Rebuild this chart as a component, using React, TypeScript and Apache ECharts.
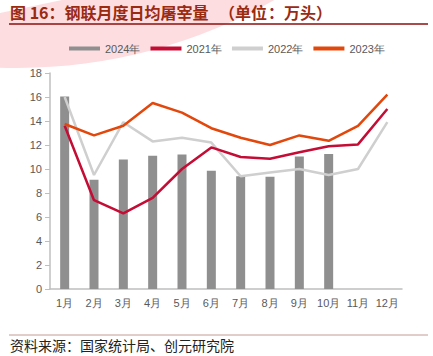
import React, { useEffect, useRef } from "react";
import * as echarts from "echarts";

const months = ["1月", "2月", "3月", "4月", "5月", "6月", "7月", "8月", "9月", "10月", "11月", "12月"];
const s2024 = [16.05, 9.1, 10.8, 11.1, 11.2, 9.85, 9.4, 9.35, 11.05, 11.25];
const s2021 = [13.6, 7.4, 6.3, 7.6, 10.0, 11.8, 11.0, 10.85, 11.4, 11.9, 12.05, 15.0];
const s2022 = [16.0, 9.5, 13.9, 12.3, 12.6, 12.2, 9.4, 9.7, 10.0, 9.5, 10.0, 13.9];
const s2023 = [13.75, 12.8, 13.6, 15.5, 14.7, 13.4, 12.6, 12.0, 12.8, 12.35, 13.6, 16.2];
const yTicks = { min: 0, max: 18, interval: 2 };

const titleParts = ["图 16：钢联月度日均屠宰量", "（", "单位", "：", "万头", "）"];
const source = "资料来源：国家统计局、创元研究院";

export default function App() {
  const ref = useRef<HTMLDivElement>(null);
  useEffect(() => {
    document.body.style.margin = "0";
    const chart = echarts.init(ref.current!, null, { renderer: "svg" });
    const axisColor = "#BFBFBF";
    const labelColor = "#595959";
    const font = "Arial, 'Liberation Sans', sans-serif";
    const titleX = [10, 219, 235, 268, 284, 316];
    const titleFont = "bold 16px 'Noto Sans CJK SC', sans-serif";
    chart.setOption({
      animation: false,
      backgroundColor: "#fff",
      graphic: [
        { type: "circle", z: -10, shape: { cx: 17, cy: -453, r: 521 }, style: { fill: "#FDDDE0" } },
        { type: "polygon", z: -9, shape: { points: [[0, 0], [62, 0], [0, 13]] }, style: { fill: "#fff" } },
        ...titleParts.map((t, i) => ({
          type: "text", left: titleX[i], top: 4,
          style: { text: t, fill: "#9A2A10", font: titleFont },
        })),
        { type: "line", shape: { x1: 9, y1: 24, x2: 428, y2: 24 }, style: { stroke: "#8B0F0F", lineWidth: 1.5 } },
        { type: "line", shape: { x1: 9, y1: 335, x2: 428, y2: 335 }, style: { stroke: "#C49A94", lineWidth: 1 } },
        {
          type: "text", left: 10, top: 338,
          style: { text: source, fill: "#222", font: "14px 'Noto Sans CJK SC', sans-serif" },
        },
      ],
      legend: {
        left: 64, top: 38,
        itemWidth: 31, itemHeight: 4, itemGap: 10,
        textStyle: { color: labelColor, fontSize: 11, fontFamily: font },
        data: [
          { name: "2024年", icon: "rect" },
          { name: "2021年", icon: "rect" },
          { name: "2022年", icon: "rect" },
          { name: "2023年", icon: "rect" },
        ],
      },
      grid: { left: 50, right: 31, top: 73, bottom: 67 },
      xAxis: {
        type: "category",
        data: months,
        axisLine: { lineStyle: { color: axisColor, width: 1.5 } },
        axisTick: { lineStyle: { color: axisColor } },
        axisLabel: { color: labelColor, fontSize: 11, fontFamily: font, margin: 8, interval: 0 },
      },
      yAxis: {
        type: "value",
        min: yTicks.min, max: yTicks.max, interval: yTicks.interval,
        axisLine: { show: true, lineStyle: { color: axisColor, width: 1.5 } },
        axisTick: { show: true, lineStyle: { color: axisColor } },
        splitLine: { show: false },
        axisLabel: { color: labelColor, fontSize: 11, fontFamily: font, margin: 8 },
      },
      series: [
        { name: "2024年", type: "bar", data: s2024, barWidth: 9, itemStyle: { color: "#8F8F8F" } },
        { name: "2022年", type: "line", data: s2022, symbol: "none", lineStyle: { color: "#CFCFCF", width: 2.5 }, itemStyle: { color: "#CFCFCF" } },
        { name: "2021年", type: "line", data: s2021, symbol: "none", lineStyle: { color: "#C40C34", width: 2.5 }, itemStyle: { color: "#C40C34" } },
        { name: "2023年", type: "line", data: s2023, symbol: "none", lineStyle: { color: "#E2470C", width: 2.5 }, itemStyle: { color: "#E2470C" } },
      ],
    });
    return () => chart.dispose();
  }, []);
  return <div ref={ref} style={{ width: 433, height: 356 }} />;
}
